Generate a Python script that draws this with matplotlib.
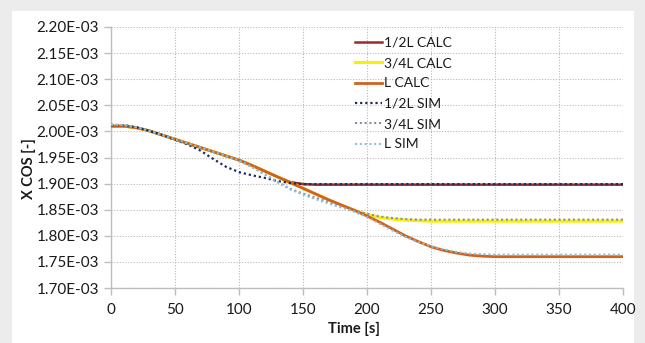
import matplotlib
matplotlib.use("Agg")
import matplotlib.pyplot as plt
from matplotlib.patches import Rectangle
from matplotlib.ticker import FuncFormatter

time = list(range(0, 401, 10))

# values in units of 1E-03
calc_half = [2.010, 2.010, 2.007, 2.001, 1.993, 1.985, 1.977, 1.969, 1.961, 1.953,
             1.945, 1.935, 1.924, 1.913, 1.903, 1.899, 1.898, 1.898, 1.898, 1.898,
             1.898, 1.898, 1.898, 1.898, 1.898, 1.898, 1.898, 1.898, 1.898, 1.898,
             1.898, 1.898, 1.898, 1.898, 1.898, 1.898, 1.898, 1.898, 1.898, 1.898, 1.898]
calc_3q = [2.010, 2.010, 2.007, 2.001, 1.993, 1.985, 1.977, 1.969, 1.961, 1.953,
           1.945, 1.935, 1.924, 1.913, 1.902, 1.891, 1.880, 1.869, 1.859, 1.849,
           1.841, 1.835, 1.832, 1.830, 1.829, 1.828, 1.828, 1.828, 1.828, 1.828,
           1.828, 1.828, 1.828, 1.828, 1.828, 1.828, 1.828, 1.828, 1.828, 1.828, 1.828]
calc_L = [2.010, 2.010, 2.007, 2.001, 1.993, 1.985, 1.977, 1.969, 1.961, 1.953,
          1.945, 1.935, 1.924, 1.913, 1.902, 1.891, 1.880, 1.869, 1.859, 1.849,
          1.838, 1.826, 1.813, 1.800, 1.789, 1.779, 1.772, 1.767, 1.763, 1.761,
          1.760, 1.760, 1.760, 1.760, 1.760, 1.760, 1.760, 1.760, 1.760, 1.760, 1.760]
sim_half = [2.012, 2.012, 2.008, 2.001, 1.993, 1.984, 1.975, 1.963, 1.947, 1.932,
            1.922, 1.916, 1.911, 1.905, 1.901, 1.899, 1.899, 1.899, 1.899, 1.899,
            1.899, 1.899, 1.899, 1.899, 1.899, 1.899, 1.899, 1.899, 1.899, 1.899,
            1.899, 1.899, 1.899, 1.899, 1.899, 1.899, 1.899, 1.899, 1.899, 1.899, 1.899]
sim_3q = [2.013, 2.012, 2.008, 2.001, 1.993, 1.985, 1.977, 1.969, 1.961, 1.953,
          1.944, 1.932, 1.918, 1.903, 1.890, 1.881, 1.873, 1.865, 1.856, 1.848,
          1.842, 1.837, 1.834, 1.832, 1.831, 1.831, 1.831, 1.831, 1.831, 1.831,
          1.831, 1.831, 1.831, 1.831, 1.831, 1.831, 1.831, 1.831, 1.831, 1.831, 1.831]
sim_L = [2.013, 2.012, 2.008, 2.001, 1.993, 1.985, 1.977, 1.969, 1.961, 1.953,
         1.944, 1.932, 1.918, 1.903, 1.889, 1.879, 1.870, 1.862, 1.854, 1.846,
         1.836, 1.823, 1.810, 1.798, 1.788, 1.780, 1.774, 1.769, 1.766, 1.765,
         1.764, 1.764, 1.764, 1.764, 1.764, 1.764, 1.764, 1.764, 1.764, 1.764, 1.764]

labels = ["1/2L CALC", "3/4L CALC", "L CALC", "1/2L SIM", "3/4L SIM", "L SIM"]
yticks = [1.70, 1.75, 1.80, 1.85, 1.90, 1.95, 2.00, 2.05, 2.10, 2.15, 2.20]
xticks = [0, 50, 100, 150, 200, 250, 300, 350, 400]

plt.rcParams['font.family'] = ['Lato', 'DejaVu Sans']

fig = plt.figure(figsize=(6.45, 3.43), dpi=100, facecolor='#ececec')
panel = Rectangle((12 / 645, 0), (634 - 12) / 645, 1 - 11 / 343,
                  transform=fig.transFigure, facecolor='white',
                  edgecolor='none', zorder=-10)
fig.add_artist(panel)
ax = fig.add_axes([111 / 645, 1 - 288 / 343, (623 - 111) / 645, (288 - 27) / 343])
ax.set_facecolor('none')

scale = 1e-3
def sc(v):
    return [x * scale for x in v]

l1, = ax.plot(time, sc(calc_half), color='#9a2a2a', lw=1.8, label=labels[0], zorder=3)
l2, = ax.plot(time, sc(calc_3q), color='#f7f000', lw=2.2, label=labels[1], zorder=3)
l3, = ax.plot(time, sc(calc_L), color='#d2611c', lw=2.0, label=labels[2], zorder=4)
l4, = ax.plot(time, sc(sim_half), color='#1e2a5e', lw=1.6, ls=(0, (1, 1.3)), label=labels[3], zorder=5)
l5, = ax.plot(time, sc(sim_3q), color='#8a8ca6', lw=1.5, ls=(0, (1, 1.3)), label=labels[4], zorder=5)
l6, = ax.plot(time, sc(sim_L), color='#8cc0d8', lw=1.5, ls=(0, (1, 1.3)), label=labels[5], zorder=5)

ax.set_xlim(0, 400)
ax.set_ylim(1.70e-3, 2.20e-3)
ax.set_xticks(xticks)
ax.set_yticks([y * scale for y in yticks])
ax.yaxis.set_major_formatter(FuncFormatter(lambda v, p: f"{v * 1e3:.2f}E-03"))
ax.grid(True, color='#b8b8b8', ls=(0, (1, 1.5)), lw=0.8)
for s in ['top', 'right']:
    ax.spines[s].set_visible(False)
for s in ['left', 'bottom']:
    ax.spines[s].set_color('#bdbdbd')
    ax.spines[s].set_linewidth(1.0)
ax.tick_params(axis='both', colors='#bdbdbd', labelcolor='#1a1a1a', labelsize=11,
               length=5, width=1.0)
ax.tick_params(axis='x', pad=6)
ax.set_xlabel("Time [s]", fontsize=10.5, fontweight='bold', color='#1a1a1a')
ax.set_ylabel("X COS [-]", fontsize=10.5, fontweight='bold', color='#1a1a1a')
ax.xaxis.set_label_coords(0.475, -0.13)
ax.yaxis.set_label_coords(-0.146, 0.456)

leg = ax.legend(handles=[l1, l2, l3, l4, l5, l6], loc='upper left',
                bbox_to_anchor=(0.458, 1.0), frameon=False, fontsize=10,
                handlelength=1.95, handletextpad=0.15, labelspacing=0.6,
                borderaxespad=0.3)
for t in leg.get_texts():
    t.set_color('#1a1a1a')

fig.savefig("out.png", dpi=100, facecolor=fig.get_facecolor())
